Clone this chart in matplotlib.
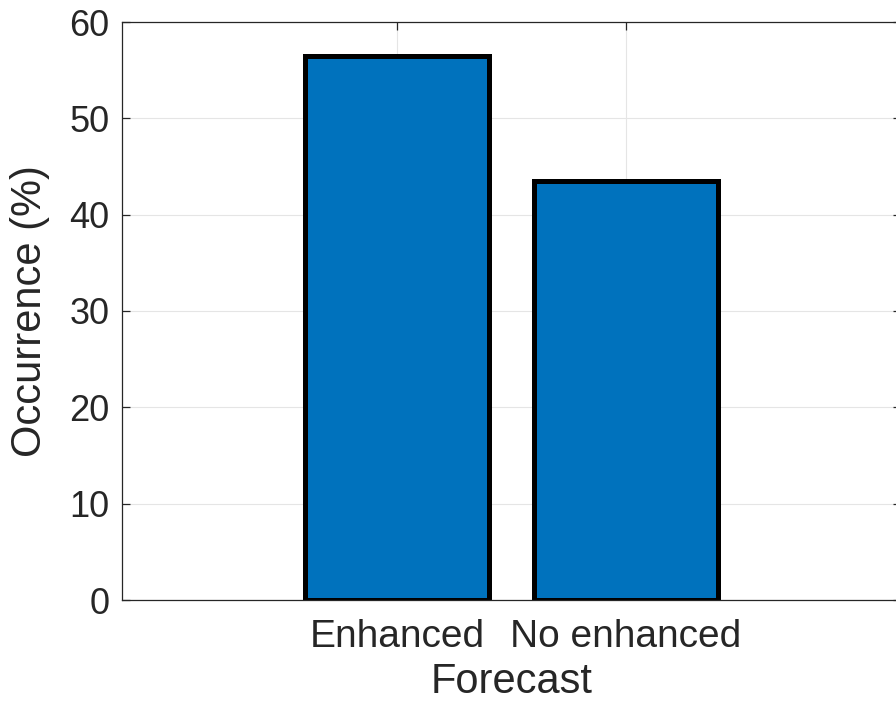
import matplotlib
matplotlib.use("Agg")
import matplotlib.pyplot as plt

categories = ["Enhanced", "No enhanced"]
values = [56.5, 43.5]
yticks = [0, 10, 20, 30, 40, 50, 60]

plt.rcParams['font.family'] = ['Liberation Sans', 'DejaVu Sans']

fig = plt.figure(figsize=(8.96, 7.08), dpi=100)
ax = fig.add_axes([122/896, 1-600/708, (901-122)/896, (600-22)/708])

pos = list(range(1, len(categories)+1))
ax.bar(pos, values, width=0.8, color="#0072BD", edgecolor="black", linewidth=3.6, zorder=2)

ax.set_xlim(-0.2, 3.2)
ax.set_ylim(0, 60)
ax.set_yticks(yticks)
ax.set_xticks(pos)
ax.set_xticklabels(categories)

for y in yticks:
    ax.axhline(y, color="#e5e5e5", lw=0.8, zorder=0)
for x in pos:
    ax.axvline(x, color="#e5e5e5", lw=0.8, zorder=0)

for s in ax.spines.values():
    s.set_color("#262626")
    s.set_linewidth(0.9)
    s.set_zorder(3)

ax.tick_params(axis='both', direction='in', length=6, width=0.9, color="#262626",
               labelcolor="#262626", top=True, right=True)
ax.tick_params(axis='y', labelsize=26, pad=9)
ax.tick_params(axis='x', labelsize=28, pad=14)

ax.set_ylabel("Occurrence (%)", fontsize=30, color="#262626", labelpad=14)
ax.set_xlabel("Forecast", fontsize=30, color="#262626", labelpad=5)

fig.savefig("out.png", dpi=100)
